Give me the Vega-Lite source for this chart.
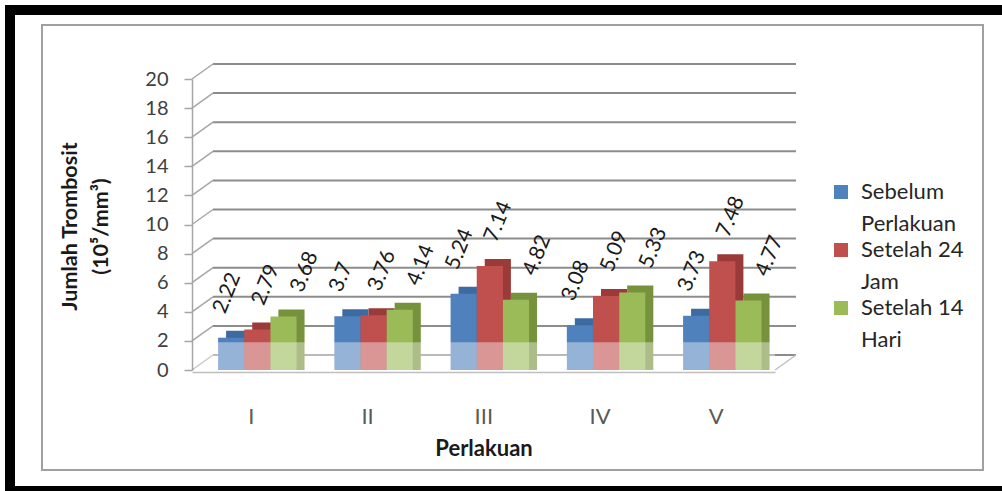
{
  "$schema": "https://vega.github.io/schema/vega-lite/v6.json",
  "width": 992,
  "height": 481,
  "autosize": {"type": "none"},
  "padding": {"left": 10, "top": 10, "right": 0, "bottom": 0},
  "background": "#ffffff",
  "config": {
    "font": "Lato",
    "view": {"fill": "#ffffff", "stroke": "#000000", "strokeWidth": 10, "strokeDash": [992, 481, 1473]},
    "style": {"guide-label": {"lineHeight": 32}}
  },
  "datasets": {
    "trombosit": [
      {"Perlakuan": "I", "Seri": "Sebelum Perlakuan", "Nilai": 2.22},
      {"Perlakuan": "I", "Seri": "Setelah 24 Jam", "Nilai": 2.79},
      {"Perlakuan": "I", "Seri": "Setelah 14 Hari", "Nilai": 3.68},
      {"Perlakuan": "II", "Seri": "Sebelum Perlakuan", "Nilai": 3.7},
      {"Perlakuan": "II", "Seri": "Setelah 24 Jam", "Nilai": 3.76},
      {"Perlakuan": "II", "Seri": "Setelah 14 Hari", "Nilai": 4.14},
      {"Perlakuan": "III", "Seri": "Sebelum Perlakuan", "Nilai": 5.24},
      {"Perlakuan": "III", "Seri": "Setelah 24 Jam", "Nilai": 7.14},
      {"Perlakuan": "III", "Seri": "Setelah 14 Hari", "Nilai": 4.82},
      {"Perlakuan": "IV", "Seri": "Sebelum Perlakuan", "Nilai": 3.08},
      {"Perlakuan": "IV", "Seri": "Setelah 24 Jam", "Nilai": 5.09},
      {"Perlakuan": "IV", "Seri": "Setelah 14 Hari", "Nilai": 5.33},
      {"Perlakuan": "V", "Seri": "Sebelum Perlakuan", "Nilai": 3.73},
      {"Perlakuan": "V", "Seri": "Setelah 24 Jam", "Nilai": 7.48},
      {"Perlakuan": "V", "Seri": "Setelah 14 Hari", "Nilai": 4.77}
    ],
    "garis": [
      {"v": 0}, {"v": 2}, {"v": 4}, {"v": 6}, {"v": 8}, {"v": 10},
      {"v": 12}, {"v": 14}, {"v": 16}, {"v": 18}, {"v": 20}
    ],
    "satu": [{}]
  },
  "layer": [
    {
      "data": {"name": "satu"},
      "mark": {"type": "rect", "filled": false, "stroke": "#A0A0A0", "strokeWidth": 2},
      "encoding": {
        "x": {"datum": 0, "type": "quantitative", "scale": {"domain": [0, 1], "range": [32, 973]}, "axis": null},
        "x2": {"datum": 1},
        "y": {"datum": 0, "type": "quantitative", "scale": {"domain": [0, 1], "range": [460, 15]}, "axis": null},
        "y2": {"datum": 1}
      }
    },
    {
      "layer": [
        {
          "data": {"name": "garis"},
          "mark": {"type": "rule", "color": "#8C8C8C", "strokeWidth": 2, "xOffset": 21, "x2Offset": 21, "yOffset": -15},
          "encoding": {
            "x": {"datum": 0, "type": "quantitative", "scale": {"domain": [0, 1], "range": [182, 765]}, "axis": null},
            "x2": {"datum": 1},
            "y": {"field": "v", "type": "quantitative", "scale": {"domain": [0, 20], "range": [360, 69]}, "axis": null}
          }
        },
        {
          "data": {"name": "garis"},
          "mark": {"type": "rule", "color": "#A6A6A6", "strokeWidth": 1.5, "x2Offset": 21, "y2Offset": -15},
          "encoding": {
            "x": {"datum": 0, "type": "quantitative"},
            "x2": {"datum": 0},
            "y": {"field": "v", "type": "quantitative"},
            "y2": {"field": "v"}
          }
        },
        {
          "data": {"name": "satu"},
          "mark": {"type": "rule", "color": "#BFBFBF", "strokeWidth": 1.5, "x2Offset": 21, "y2Offset": -15},
          "encoding": {
            "x": {"datum": 1, "type": "quantitative"},
            "x2": {"datum": 1},
            "y": {"datum": 0, "type": "quantitative"},
            "y2": {"datum": 0}
          }
        }
      ]
    },
    {
      "data": {"name": "trombosit"},
      "encoding": {
        "x": {
          "field": "Perlakuan", "type": "nominal",
          "scale": {"domain": ["I", "II", "III", "IV", "V"], "range": [182, 765], "paddingInner": 0.325, "paddingOuter": 0.17, "align": 0.66},
          "axis": {
            "orient": "bottom", "offset": -119, "domainColor": "#BFBFBF", "domainWidth": 1.5,
            "ticks": false, "grid": false, "labelPadding": 34, "labelOffset": -6, "labelAngle": 0,
            "labelFontSize": 22, "labelColor": "#5A5A5A",
            "title": "Perlakuan", "titleFontSize": 22, "titleFontWeight": "bold", "titleColor": "#1A1A1A",
            "titleY": 83, "titleBaseline": "alphabetic"
          }
        },
        "y": {
          "field": "Nilai", "type": "quantitative", "stack": null,
          "scale": {"domain": [0, 20], "range": [360, 69]},
          "axis": {
            "orient": "left", "offset": -182, "values": [0, 2, 4, 6, 8, 10, 12, 14, 16, 18, 20],
            "domainColor": "#A6A6A6", "domainWidth": 1.5, "tickColor": "#A6A6A6", "tickSize": 8, "tickWidth": 1.5,
            "grid": false, "labelFontSize": 20, "labelColor": "#404040", "labelPadding": 16,
            "title": ["Jumlah Trombosit", "(10⁵/mm³)"], "titleFontSize": 21.5, "titleFontWeight": "bold",
            "titleColor": "#1A1A1A", "titleLineHeight": 31, "titleAngle": 270, "titleX": -122, "titleY": 216,
            "titleAlign": "center", "titleBaseline": "middle"
          }
        }
      },
      "layer": [
        {
          "mark": {"type": "bar", "yOffset": -7, "y2Offset": -7},
          "encoding": {
            "xOffset": {"field": "Seri", "type": "nominal", "sort": ["Sebelum Perlakuan", "Setelah 24 Jam", "Setelah 14 Hari"], "scale": {"range": [8, 86.47], "paddingInner": 0, "paddingOuter": 0}},
            "color": {"field": "Seri", "type": "nominal", "scale": {"domain": ["Sebelum Perlakuan", "Setelah 24 Jam", "Setelah 14 Hari"], "range": ["#3D6AA1", "#9A3B39", "#76923C"]}, "legend": null}
          }
        },
        {
          "mark": {"type": "bar"},
          "encoding": {
            "xOffset": {"field": "Seri", "type": "nominal", "sort": ["Sebelum Perlakuan", "Setelah 24 Jam", "Setelah 14 Hari"], "scale": {"paddingInner": 0, "paddingOuter": 0}},
            "color": {
              "field": "Seri", "type": "nominal",
              "scale": {"domain": ["Sebelum Perlakuan", "Setelah 24 Jam", "Setelah 14 Hari"], "range": ["#4F81BD", "#C0504D", "#9BBB59"]},
              "legend": {
                "orient": "none", "legendX": 820, "legendY": 171, "title": null,
                "symbolType": "square", "symbolSize": 196, "rowPadding": 4,
                "labelFontSize": 22, "labelColor": "#262626", "labelOffset": 9, "labelLimit": 220,
                "labelExpr": "[slice(datum.label, 0, lastindexof(datum.label, ' ')), slice(datum.label, lastindexof(datum.label, ' ') + 1)]"
              }
            }
          }
        },
        {
          "mark": {"type": "text", "angle": 292, "align": "left", "baseline": "alphabetic", "yOffset": -23, "fontSize": 21, "color": "#1A1A1A"},
          "encoding": {
            "xOffset": {"field": "Seri", "type": "nominal", "sort": ["Sebelum Perlakuan", "Setelah 24 Jam", "Setelah 14 Hari"], "scale": {"type": "point", "range": [7, 84.5], "padding": 0}},
            "text": {"field": "Nilai", "type": "quantitative"}
          }
        }
      ],
      "resolve": {"scale": {"xOffset": "independent", "color": "independent"}, "legend": {"color": "independent"}}
    },
    {
      "data": {"name": "satu"},
      "mark": {"type": "rect", "color": "#FFFFFF", "opacity": 0.4, "xOffset": 2},
      "encoding": {
        "x": {"datum": 0, "type": "quantitative", "scale": {"domain": [0, 1], "range": [182, 765]}, "axis": null},
        "x2": {"datum": 1},
        "y": {"datum": 0, "type": "quantitative", "scale": {"domain": [0, 20], "range": [360, 69]}, "axis": null},
        "y2": {"datum": 1.9}
      }
    }
  ],
  "resolve": {"scale": {"x": "independent", "y": "independent"}}
}
